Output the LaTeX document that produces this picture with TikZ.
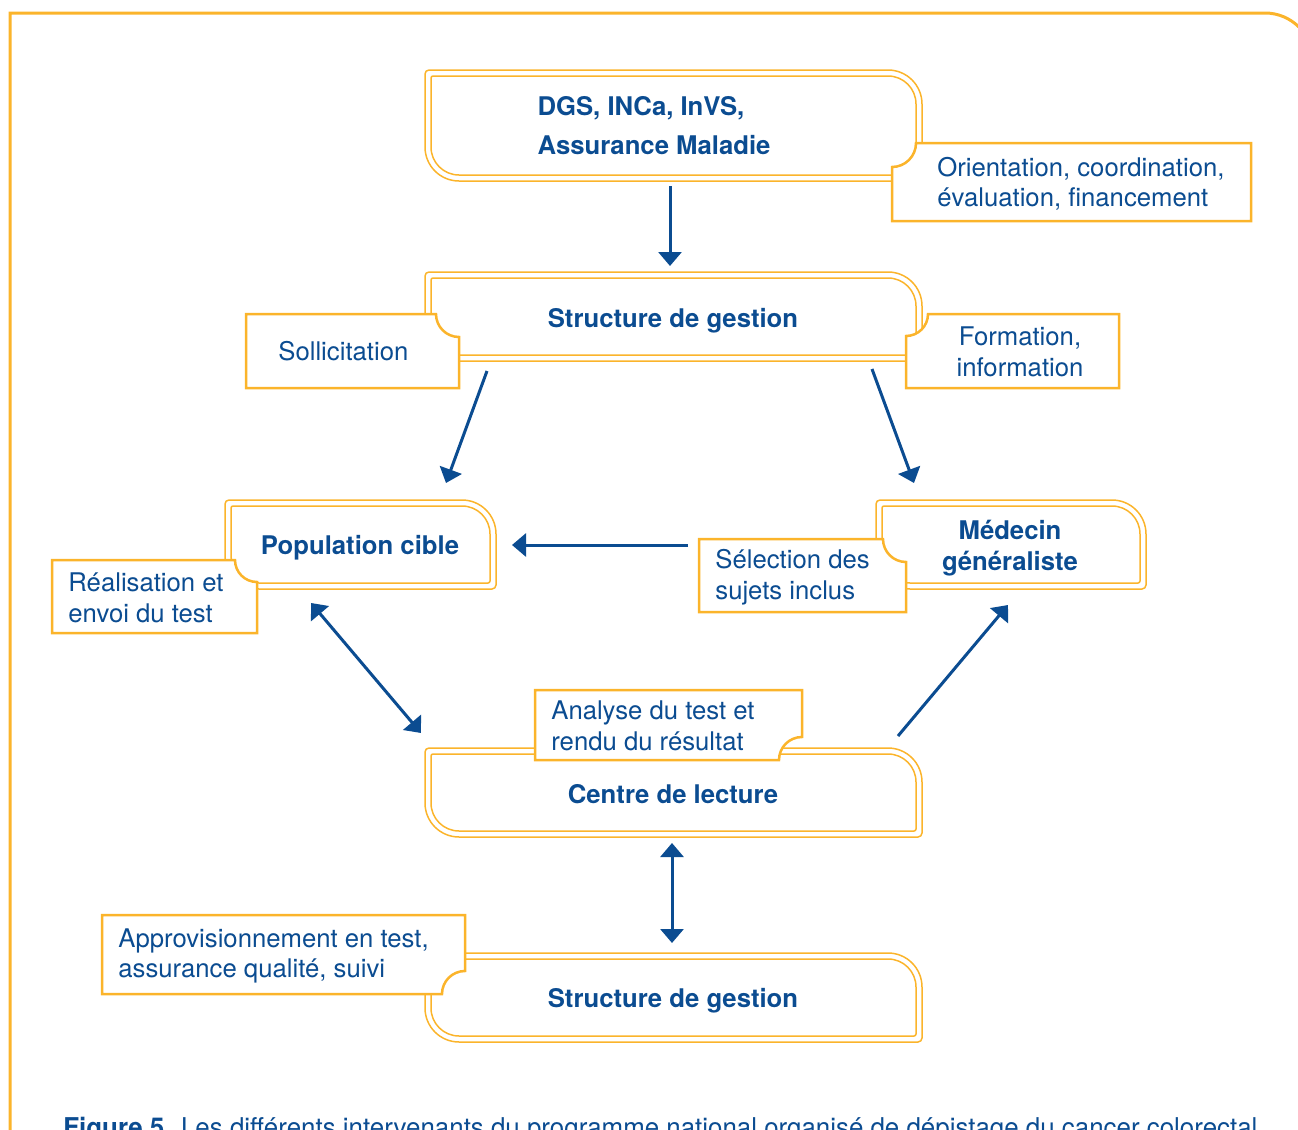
\documentclass[tikz,border=0pt]{standalone}
\usepackage{fontspec}
\setmainfont{TeX Gyre Heros}
\usetikzlibrary{arrows.meta}
\definecolor{orng}{HTML}{FBB42B}
\definecolor{dblue}{HTML}{0B4C91}
\newcommand\mainbox[4]{%
 \draw[mainline] (#1+4,#2) -- (#3-34,#2) arc[start angle=90,end angle=0,radius=17pt] -- (#3,#4-4) arc[start angle=0,end angle=-90,radius=2pt] -- (#1+34,#4) arc[start angle=-90,end angle=-180,radius=17pt] -- (#1,#2+4) arc[start angle=180,end angle=90,radius=2pt] -- cycle;
 \draw[mainline] (#1+8,#2+6) -- (#3-34,#2+6) arc[start angle=90,end angle=0,radius=14pt] -- (#3-6,#4-8) arc[start angle=0,end angle=-90,radius=1pt] -- (#1+34,#4-6) arc[start angle=-90,end angle=-180,radius=14pt] -- (#1+6,#2+8) arc[start angle=180,end angle=90,radius=1pt] -- cycle;
}
\begin{document}
\begin{tikzpicture}[x=0.5pt,y=-0.5pt,
  mainline/.style={draw=orng,line width=0.75pt},
  sidebox/.style={draw=orng,line width=1.25pt,fill=white},
  frameline/.style={draw=orng,line width=1.5pt},
  maintext/.style={text=dblue,inner sep=0pt,align=center,font=\fontsize{12.85}{15.25}\selectfont\bfseries},
  sidetext/.style={text=dblue,inner sep=0pt,align=left,font=\fontsize{12.85}{15.25}\selectfont},
  arr/.style={draw=dblue,line width=1.5pt,-{Triangle[length=7pt,width=11.5pt]}},
  darr/.style={draw=dblue,line width=1.5pt,{Triangle[length=7pt,width=11.5pt]}-{Triangle[length=7pt,width=11.5pt]}}]
\useasboundingbox (0,0) rectangle (1298,1130);
% outer frame
\draw[frameline] (10,1140) -- (10,13) -- (1265,13) arc[start angle=90,end angle=0,radius=24pt] -- (1313,300);
% main boxes
\mainbox{425}{70}{922}{181}
\mainbox{425}{272}{922}{361}
\mainbox{225}{500}{496}{589}
\mainbox{876}{500}{1146}{589}
\mainbox{425}{748}{922}{837}
\mainbox{425}{953}{922}{1042}
% side boxes
\draw[sidebox] (916,143) -- (1251,143) -- (1251,221) -- (892,221) -- (892,167) arc[start angle=-90,end angle=0,radius=12pt] -- cycle;
\draw[sidebox] (928,314) -- (1119,314) -- (1119,388) -- (906,388) -- (906,336) arc[start angle=-90,end angle=0,radius=11pt] -- cycle;
\draw[sidebox] (246,314) -- (436,314) arc[start angle=180,end angle=270,radius=11.5pt] -- (459,388) -- (246,388) -- cycle;
\draw[sidebox] (52,560) -- (235,560) arc[start angle=180,end angle=270,radius=11pt] -- (257,633) -- (52,633) -- cycle;
\draw[sidebox] (699,539) -- (883,539) arc[start angle=180,end angle=270,radius=11.5pt] -- (906,612) -- (699,612) -- cycle;
\draw[sidebox] (535,690) -- (802,690) -- (802,737) arc[start angle=90,end angle=180,radius=11.5pt] -- (535,760) -- cycle;
\draw[sidebox] (102,915) -- (465,915) -- (465,971) arc[start angle=90,end angle=180,radius=11.5pt] -- (102,994) -- cycle;
% texts
\node[maintext,align=left,font=\fontsize{12.85}{19.5}\selectfont\bfseries] (dgs) at (654,126) {DGS, INCa, InVS,\\Assurance Maladie};
\node[sidetext,anchor=west] (orient) at (937,184) {Orientation, coordination,\\évaluation, financement};
\node[maintext] (gest1) at (673,321) {Structure de gestion};
\node[sidetext,anchor=west] (sollic) at (278,351) {Sollicitation};
\node[sidetext,align=center] (format) at (1020,352) {Formation,\\information};
\node[maintext] (popul) at (360,548) {Population cible};
\node[sidetext,anchor=west] (realis) at (68,598) {Réalisation et\\envoi du test};
\node[maintext] (medecin) at (1010,548) {Médecin\\généraliste};
\node[sidetext,anchor=west] (select) at (715,577) {Sélection des\\sujets inclus};
\node[sidetext,anchor=west] (analyse) at (551,726) {Analyse du test et\\rendu du résultat};
\node[maintext] (centre) at (673,794) {Centre de lecture};
\node[sidetext,anchor=west] (approv) at (118,956) {Approvisionnement en test,\\assurance qualité, suivi};
\node[maintext] (gest2) at (673,1001) {Structure de gestion};
\node[text=dblue,inner sep=0pt,anchor=base west] (caption) at (63,1136) {\resizebox{597pt}{!}{\textbf{Figure 5.} Les différents intervenants du programme national organisé de dépistage du cancer colorectal}};
% arrow end points
\coordinate (a1s) at (670,186); \coordinate (a1e) at (670,266);
\coordinate (a2s) at (487,371); \coordinate (a2e) at (446,483);
\coordinate (a3s) at (872,369); \coordinate (a3e) at (914,483);
\coordinate (a4s) at (688,545); \coordinate (a4e) at (512,545);
\coordinate (a5s) at (311,603); \coordinate (a5e) at (421,733);
\coordinate (a6s) at (898,736); \coordinate (a6e) at (1008,605);
\coordinate (a7s) at (672,843); \coordinate (a7e) at (672,943);
\draw[arr] (a1s) -- (a1e);
\draw[arr] (a2s) -- (a2e);
\draw[arr] (a3s) -- (a3e);
\draw[arr] (a4s) -- (a4e);
\draw[darr] (a5s) -- (a5e);
\draw[arr] (a6s) -- (a6e);
\draw[darr] (a7s) -- (a7e);
\end{tikzpicture}
\end{document}
